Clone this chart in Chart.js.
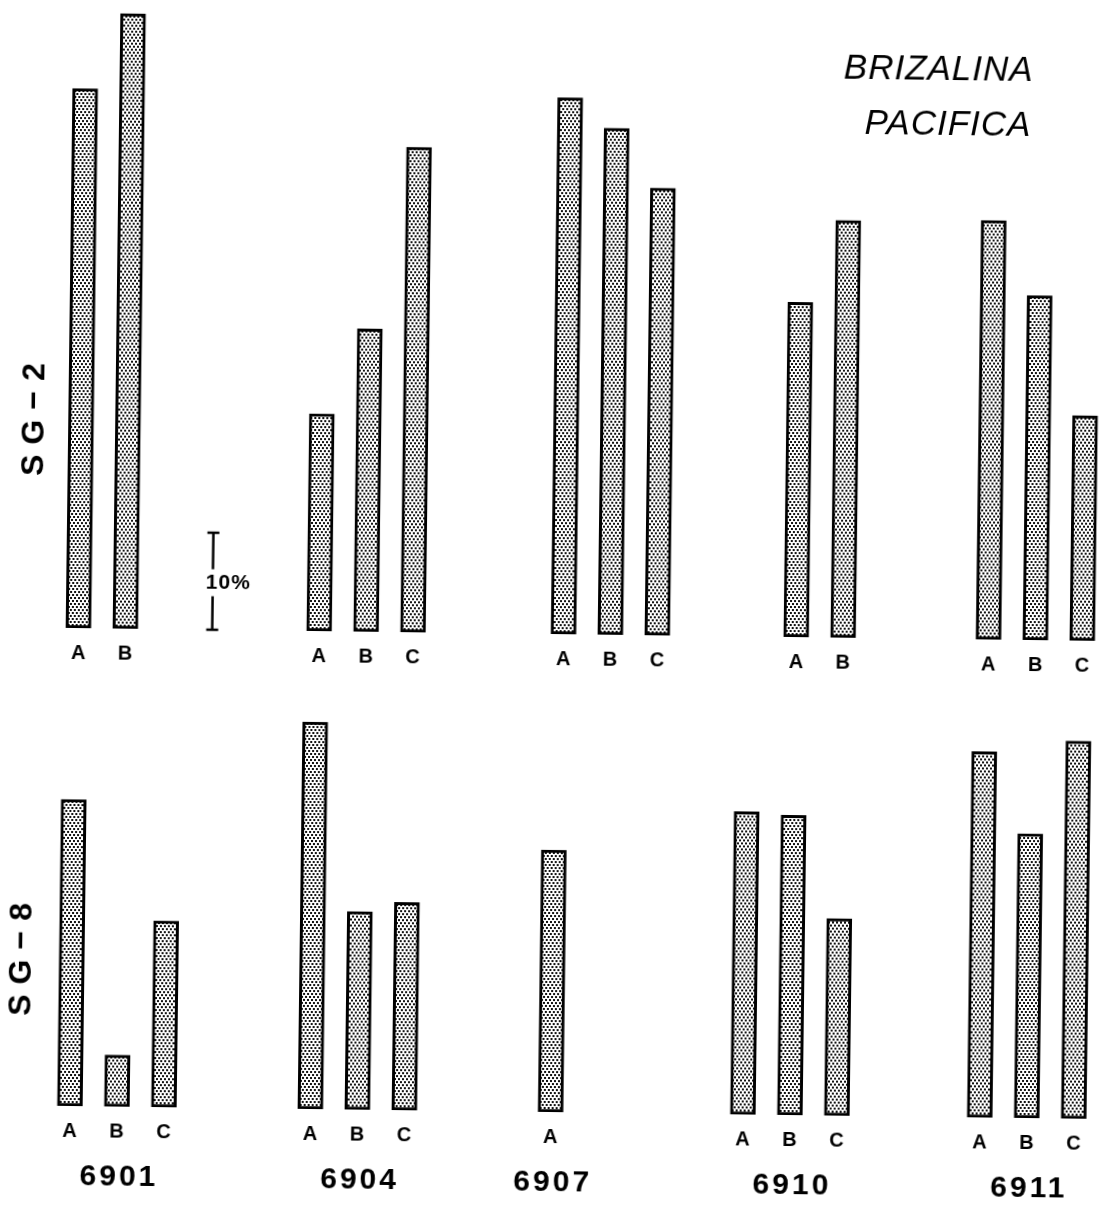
<!DOCTYPE html>
<html>
<head>
<meta charset="utf-8">
<script src="https://cdn.jsdelivr.net/npm/chart.js@4.4.1/dist/chart.umd.min.js"></script>
<style>
  html, body { margin: 0; padding: 0; background: #fff; }
  #page { position: relative; width: 1103px; height: 1207px; transform: rotate(0.72deg); transform-origin: 50% 50%; }
  canvas { position: absolute; left: 0; }
  .t { position: absolute; font-family: "Liberation Sans", Arial, sans-serif; color: #000; white-space: nowrap; transform: translate(-50%, -50%); }
  .title { font-size: 35px; font-style: italic; letter-spacing: 1px; }
  .row { font-size: 32px; font-weight: bold; letter-spacing: 10px; transform: translate(-50%, -50%) rotate(-90deg); }
</style>
</head>
<body>
<div id="page">
  <canvas id="topChart" width="1103" height="690" style="top:0"></canvas>
  <canvas id="bottomChart" width="1103" height="517" style="top:690px"></canvas>
  <div class="t title" style="left:932px; top:63px">BRIZALINA</div>
  <div class="t title" style="left:942px; top:118px">PACIFICA</div>
  <div class="t row" style="left:31px; top:421px">SG−2</div>
  <div class="t row" style="left:25px; top:961px">SG−8</div>
</div>
<script>
// samples and letters
const groups = ['6901', '6904', '6907', '6910', '6911'];
const letters = ['A', 'B', 'C'];

// SG-2, percent
const sg2A = [55.6, 22.4, 55.3, 34.5, 43.2];
const sg2B = [63.4, 31.2, 52.2, 43.0, 35.5];
const sg2C = [null, 50.0, 46.1, null, 23.2];

// SG-8, percent
const sg8A = [31.6, 39.9, 27.0, 31.2, 37.7];
const sg8B = [5.3, 20.4, null, 30.9, 29.3];
const sg8C = [19.2, 21.4, null, 20.3, 38.9];

const scaleBarValue = 10;

// layout: x axis in "slots" of one bar step
const topGroupSlot = [0, 5.13, 10.34, 15.3, 19.4];
const bottomGroupSlot = [-0.06, 5.06, 10.17, 14.26, 19.3];
const xMin = -79 / 47;
const xMax = (1103 - 79) / 47;
const AXIS_H = 34;

function stipple() {
  const tile = document.createElement('canvas');
  tile.width = 4; tile.height = 6;
  const c = tile.getContext('2d');
  c.fillStyle = '#fff';
  c.fillRect(0, 0, 4, 6);
  c.fillStyle = '#111';
  c.fillRect(0, 0, 2, 2);
  c.fillRect(2, 3, 2, 2);
  return c.createPattern(tile, 'repeat');
}

function buildBars(series, groupSlot) {
  const points = [];
  groups.forEach((g, gi) => {
    series.forEach((s, li) => {
      if (s[gi] !== null) {
        points.push({ x: groupSlot[gi] + li, y: s[gi], letter: letters[li], group: gi });
      }
    });
  });
  return points;
}

const extras = {
  id: 'extras',
  afterDatasetsDraw(chart, args, opts) {
    const ctx = chart.ctx;
    const xs = chart.scales.x, ys = chart.scales.y;
    const base = ys.getPixelForValue(0);
    ctx.save();
    ctx.fillStyle = '#000';
    ctx.strokeStyle = '#000';
    if (opts.scaleBarAt != null) {
      const px = xs.getPixelForValue(opts.scaleBarAt);
      const top = ys.getPixelForValue(scaleBarValue);
      const mid = (base + top) / 2;
      ctx.lineWidth = 2.5;
      ctx.beginPath();
      ctx.moveTo(px, top); ctx.lineTo(px, mid - 12);
      ctx.moveTo(px, mid + 15); ctx.lineTo(px, base);
      ctx.moveTo(px - 6, top); ctx.lineTo(px + 6, top);
      ctx.moveTo(px - 6, base); ctx.lineTo(px + 6, base);
      ctx.stroke();
      ctx.font = 'bold 21px "Liberation Sans", Arial, sans-serif';
      ctx.letterSpacing = '1px';
      ctx.textAlign = 'left';
      ctx.textBaseline = 'middle';
      ctx.fillText(scaleBarValue + '%', px - 7, mid + 2);
    }
    if (opts.groupLabels) {
      const pts = chart.data.datasets[0].data;
      ctx.font = 'bold 30px "Liberation Sans", Arial, sans-serif';
      ctx.letterSpacing = '3px';
      ctx.textAlign = 'center';
      ctx.textBaseline = 'middle';
      groups.forEach((g, gi) => {
        const mine = pts.filter(p => p.group === gi);
        const cx = mine.reduce((s, p) => s + xs.getPixelForValue(p.x), 0) / mine.length;
        ctx.fillText(g, cx + 3, base + 71);
      });
    }
    ctx.restore();
  }
};

function makeRow(id, points, yMax, padBottom, extraOpts) {
  return new Chart(document.getElementById(id), {
    type: 'bar',
    data: {
      datasets: [{
        data: points,
        backgroundColor: stipple(),
        borderColor: '#000',
        borderWidth: 3,
        borderSkipped: false,
        barThickness: 25
      }]
    },
    options: {
      responsive: false,
      animation: false,
      layout: { padding: { top: 0, left: 0, right: 0, bottom: padBottom } },
      plugins: { legend: { display: false }, tooltip: { enabled: false }, extras: extraOpts },
      scales: {
        x: {
          type: 'linear',
          offset: false,
          min: xMin,
          max: xMax,
          grid: { display: false, drawTicks: false },
          border: { display: false },
          afterBuildTicks: axis => { axis.ticks = points.map(p => ({ value: p.x })); },
          afterFit: axis => { axis.height = AXIS_H; },
          ticks: {
            autoSkip: false,
            maxRotation: 0,
            padding: 13,
            color: '#000',
            font: { family: '"Liberation Sans", Arial, sans-serif', size: 20, weight: 'bold' },
            callback: (v, i) => points[i].letter
          }
        },
        y: { display: false, min: 0, max: yMax }
      }
    },
    plugins: [extras]
  });
}

makeRow('topChart', buildBars([sg2A, sg2B, sg2C], topGroupSlot), 634 / 9.7, 690 - 634 - AXIS_H, { scaleBarAt: 2.85 });
makeRow('bottomChart', buildBars([sg8A, sg8B, sg8C], bottomGroupSlot), 422 / 9.7, 517 - 422 - AXIS_H, { groupLabels: true });
</script>
</body>
</html>
